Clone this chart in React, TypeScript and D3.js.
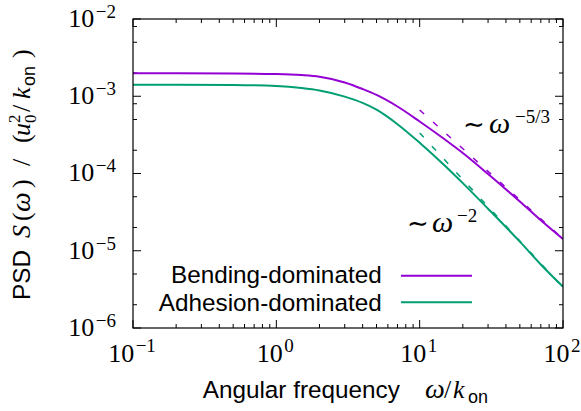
import React from "react";
import * as d3 from "d3";

// ---- data ----
const omega = [0.1, 0.2, 0.5, 1, 1.5, 2, 3, 4, 5, 7, 10, 15, 20, 30, 50, 70, 100];
const bending = [1.98e-3, 1.98e-3, 1.97e-3, 1.94e-3, 1.88e-3, 1.79e-3, 1.51e-3, 1.24e-3, 1.04e-3, 7.37e-4, 4.71e-4, 2.75e-4, 1.84e-4, 9.85e-5, 4.34e-5, 2.48e-5, 1.42e-5];
const adhesion = [1.41e-3, 1.41e-3, 1.40e-3, 1.36e-3, 1.28e-3, 1.19e-3, 9.9e-4, 8.2e-4, 6.7e-4, 4.35e-4, 2.5e-4, 1.26e-4, 7.5e-5, 3.5e-5, 1.31e-5, 6.65e-6, 3.42e-6];
const asymOmega = [10, 100];
const bendingAsym = [6.65e-4, 1.43e-5];
const adhesionAsym = [3.35e-4, 3.35e-6];

const xMajor = [0.1, 1, 10, 100];
const xMajorExp = ["−1", "0", "1", "2"];
const yMajor = [1e-6, 1e-5, 1e-4, 1e-3, 1e-2];
const yMajorExp = ["−6", "−5", "−4", "−3", "−2"];
const xMinor = [0.2, 0.3, 0.4, 0.5, 0.6, 0.7, 0.8, 0.9, 2, 3, 4, 5, 6, 7, 8, 9, 20, 30, 40, 50, 60, 70, 80, 90];
const yMinor = [2e-6, 5e-6, 2e-5, 5e-5, 2e-4, 5e-4, 8e-4, 2e-3, 5e-3, 8e-3];

const seriesNames = ["Bending-dominated", "Adhesion-dominated"];
const colors = ["#9400d3", "#009e73"];

const W = 581, H = 411;
const L = 133, R = 563, T = 19, B = 328;
const SANS = "'Liberation Sans', Arial, sans-serif";
const SERIF = "'Liberation Serif', 'Times New Roman', serif";
const SYM = "'DejaVu Sans', sans-serif";

export default function App() {
  const x = d3.scaleLog().domain([0.1, 100]).range([L, R]);
  const y = d3.scaleLog().domain([1e-6, 1e-2]).range([B, T]);
  const line = d3.line<[number, number]>()
    .x((d) => x(d[0]))
    .y((d) => y(d[1]))
    .curve(d3.curveMonotoneX);
  const straight = d3.line<[number, number]>().x((d) => x(d[0])).y((d) => y(d[1]));
  const pts = (vals: number[], xs: number[]) => xs.map((w, i) => [w, vals[i]] as [number, number]);

  const maj = 8, mnr = 4;

  return (
    <div style={{ position: "fixed", left: 0, top: 0 }}>
      <svg width={W} height={H} style={{ display: "block", background: "#fff" }}>
        <defs>
          <clipPath id="plot">
            <rect x={L} y={T} width={R - L} height={B - T} />
          </clipPath>
        </defs>
        {/* ticks */}
        <g stroke="#000" strokeWidth={1}>
          {xMajor.map((v) => (
            <g key={"xM" + v}>
              <line x1={x(v)} x2={x(v)} y1={B} y2={B - maj} />
              <line x1={x(v)} x2={x(v)} y1={T} y2={T + maj} />
            </g>
          ))}
          {xMinor.map((v) => (
            <g key={"xm" + v}>
              <line x1={x(v)} x2={x(v)} y1={B} y2={B - mnr} />
              <line x1={x(v)} x2={x(v)} y1={T} y2={T + mnr} />
            </g>
          ))}
          {yMajor.map((v) => (
            <g key={"yM" + v}>
              <line x1={L} x2={L + maj} y1={y(v)} y2={y(v)} />
              <line x1={R} x2={R - maj} y1={y(v)} y2={y(v)} />
            </g>
          ))}
          {yMinor.map((v) => (
            <g key={"ym" + v}>
              <line x1={L} x2={L + mnr} y1={y(v)} y2={y(v)} />
              <line x1={R} x2={R - mnr} y1={y(v)} y2={y(v)} />
            </g>
          ))}
        </g>

        {/* curves */}
        <g clipPath="url(#plot)" fill="none">
          <path d={line(pts(bending, omega)) || ""} stroke={colors[0]} strokeWidth={2} />
          <path d={line(pts(adhesion, omega)) || ""} stroke={colors[1]} strokeWidth={2} />
          <path d={straight(pts(bendingAsym, asymOmega)) || ""} stroke={colors[0]} strokeWidth={1.5} strokeDasharray="6 12" />
          <path d={straight(pts(adhesionAsym, asymOmega)) || ""} stroke={colors[1]} strokeWidth={1.5} strokeDasharray="6 12" />
        </g>

        {/* frame */}
        <rect x={L} y={T} width={R - L} height={B - T} fill="none" stroke="#000" strokeWidth={1.2} />

        {/* x tick labels */}
        {xMajor.map((v, i) => (
          <text key={"xl" + v} x={x(v) - 1} y={361.5} textAnchor="middle" fontFamily={SERIF} fontSize={26}>
            10<tspan fontSize={19} dx={1.5} dy={-9.5}>{xMajorExp[i]}</tspan>
          </text>
        ))}
        {/* y tick labels */}
        {yMajor.map((v, i) => (
          <text key={"yl" + v} x={116} y={y(v) + 7.8} textAnchor="end" fontFamily={SERIF} fontSize={26}>
            10<tspan fontSize={19} dx={1.5} dy={-9}>{yMajorExp[i]}</tspan>
          </text>
        ))}

        {/* annotations */}
        <text y={133} fontFamily={SERIF} fontSize={26}>
          <tspan x={463} fontFamily={SYM}>∼</tspan>
          <tspan x={489} fontStyle="italic" fontSize={30}>ω</tspan>
          <tspan x={515} fontSize={19} dy={-10}>−5/3</tspan>
        </text>
        <text y={232} fontFamily={SERIF} fontSize={26}>
          <tspan x={407} fontFamily={SYM}>∼</tspan>
          <tspan x={432} fontStyle="italic" fontSize={30}>ω</tspan>
          <tspan x={457} fontSize={19} dy={-10}>−2</tspan>
        </text>

        {/* legend */}
        {seriesNames.map((n, i) => (
          <g key={n}>
            <text x={381.7} y={283 + i * 27.5} textAnchor="end" fontFamily={SANS} fontSize={24.3}>{n}</text>
            <line x1={401} x2={472} y1={275.7 + i * 26.6} y2={275.7 + i * 26.6} stroke={colors[i]} strokeWidth={2} />
          </g>
        ))}

        {/* x axis label */}
        <text y={397.5} fontSize={24.3}>
          <tspan x={202.7} fontFamily={SANS}>Angular frequency</tspan>
          <tspan x={425} fontFamily={SERIF} fontStyle="italic" fontSize={28}>ω</tspan>
          <tspan x={444} fontFamily={SERIF} fontSize={26}>/</tspan>
          <tspan x={453} fontFamily={SERIF} fontStyle="italic" fontSize={26}>k</tspan>
          <tspan x={468} fontFamily={SANS} fontSize={18} dy={5}>on</tspan>
        </text>

        {/* y axis label */}
        <g transform="translate(30,300) rotate(-90)">
          <text y={0} fontSize={26} fontFamily={SERIF}>
            <tspan x={0} fontFamily={SANS} fontSize={24.3}>PSD</tspan>
            <tspan x={62} fontStyle="italic">S</tspan>
            <tspan x={79}>(</tspan>
            <tspan x={88} fontStyle="italic" fontSize={28}>ω</tspan>
            <tspan x={112}>)</tspan>
            <tspan x={134}>/</tspan>
            <tspan x={157}>(</tspan>
            <tspan x={164} fontStyle="italic">u</tspan>
          </text>
          <text x={177} y={-10} fontSize={17} fontFamily={SERIF}>2</text>
          <text x={177} y={6} fontSize={17} fontFamily={SERIF}>0</text>
          <text y={0} fontSize={26} fontFamily={SERIF}>
            <tspan x={188}>/</tspan>
            <tspan x={201} fontStyle="italic">k</tspan>
            <tspan x={214} fontFamily={SANS} fontSize={18} dy={5}>on</tspan>
            <tspan x={242} dy={-5}>)</tspan>
          </text>
        </g>
      </svg>
    </div>
  );
}
